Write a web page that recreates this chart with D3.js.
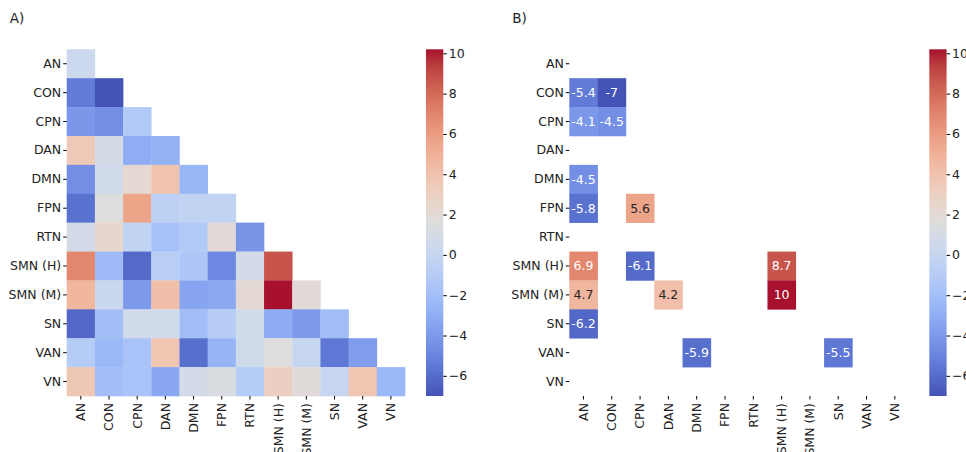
<html>
<script src='https://d3js.org/d3.v7.min.js'></script>
<style>
    body { margin: 0; background: white; }
    text { font-family: 'DejaVu Sans', sans-serif; fill: #222; }
</style>

<body onload='init()'>
    <svg width=966 height=452></svg>
    <script>
        // network names (rows and columns)
        const regions = ['AN', 'CON', 'CPN', 'DAN', 'DMN', 'FPN', 'RTN', 'SMN (H)', 'SMN (M)', 'SN', 'VAN', 'VN'];

        // lower triangle of the t matrix, row by row
        const tValues = [
            [0.3],
            [-5.4, -7.0],
            [-4.1, -4.5, -1.2],
            [3.5, 1.0, -3.0, -2.8],
            [-4.5, 0.6, 2.2, 3.9, -2.5],
            [-5.8, 1.6, 5.6, -0.6, -0.3, -0.3],
            [0.8, 2.4, -0.3, -1.8, -1.2, 1.9, -4.2],
            [6.9, -2.2, -6.1, -0.8, -1.4, -4.8, 0.8, 8.7],
            [4.7, 0.2, -4.0, 4.2, -3.5, -3.2, 2.1, 10.2, 1.9],
            [-6.2, -2.0, 0.6, 0.6, -2.0, -0.9, 0.5, -3.1, -4.0, -2.0],
            [-1.0, -2.4, -1.7, 3.8, -5.9, -2.6, 0.5, 1.6, 0.0, -5.5, -3.8],
            [3.6, -2.0, -1.7, -3.3, 0.8, 1.3, -1.0, 3.0, 1.8, 0.0, 3.8, -2.4]
        ];

        // cells that survive the significance threshold (panel B), [row, col]
        const sigCells = [[1, 0], [1, 1], [2, 0], [2, 1], [4, 0], [5, 0], [5, 2],
                          [7, 0], [7, 2], [7, 7], [8, 0], [8, 3], [8, 7], [9, 0], [10, 4], [10, 9]];

        const cbarTicks = [-6, -4, -2, 0, 2, 4, 6, 8, 10];

        // matplotlib coolwarm
        const coolwarm = ['#3b4cc0', '#445acc', '#4d68d7', '#5775e1', '#6282ea', '#6c8ef1', '#779af7', '#82a5fb',
            '#8db0fe', '#98b9ff', '#a3c2ff', '#aec9fd', '#b8d0f9', '#c2d5f4', '#ccd9ee', '#d5dbe6', '#dddddd',
            '#e5d8d1', '#ecd3c5', '#f1ccb9', '#f5c4ad', '#f7bba0', '#f7b194', '#f7a687', '#f49a7b', '#f18d6f',
            '#ec7f63', '#e57058', '#de604d', '#d55042', '#cb3e38', '#c0282f', '#b40426'];

        // same rule seaborn uses to pick the annotation colour
        function luminance(c) {
            const lin = v => { v /= 255; return v <= 0.03928 ? v / 12.92 : Math.pow((v + 0.055) / 1.055, 2.4); };
            c = d3.rgb(c);
            return 0.2126 * lin(c.r) + 0.7152 * lin(c.g) + 0.0722 * lin(c.b);
        }

        function init() {
            const svg = d3.select('svg');

            let cells = [];
            tValues.forEach((row, i) => row.forEach((v, j) => cells.push({ r: i, c: j, v: v })));
            const sig = cells.filter(d => sigCells.some(s => s[0] === d.r && s[1] === d.c));

            // the printed figure looks a touch washed out
            const stops = coolwarm.map(c => { let h = d3.hsl(c); h.s *= 0.85; return h.formatHex(); });
            const ext = d3.extent(cells, d => d.v);
            const color = d3.scaleSequential(d3.piecewise(d3.interpolateRgb, stops)).domain(ext);

            const top = 49.3, bottom = 396;
            const fs = '12.5px';
            const y = d3.scaleBand().domain(regions).range([top, bottom]);

            function panel(x0, x1, data, label, cbarX, annotate) {
                const x = d3.scaleBand().domain(regions).range([x0, x1]);
                const g = svg.append('g');

                svg.append('text').attr('x', x0 - 57).attr('y', 23)
                    .style('font-size', '13.5px').text(label);

                g.selectAll('rect').data(data).enter().append('rect')
                    .attr('x', d => x(regions[d.c]))
                    .attr('y', d => y(regions[d.r]))
                    .attr('width', x.bandwidth() + 0.3)
                    .attr('height', y.bandwidth() + 0.3)
                    .attr('fill', d => color(d.v));

                if (annotate) {
                    g.selectAll('.ann').data(data).enter().append('text')
                        .attr('x', d => x(regions[d.c]) + x.bandwidth() / 2)
                        .attr('y', d => y(regions[d.r]) + y.bandwidth() / 2)
                        .attr('dy', '0.36em')
                        .attr('text-anchor', 'middle')
                        .style('font-size', fs)
                        .style('fill', d => luminance(color(d.v)) > 0.408 ? '#262626' : 'white')
                        .text(d => d3.format('.2~g')(d.v).replace('−', '-'));
                }

                // axes
                const ya = svg.append('g').attr('transform', `translate(${x0},0)`)
                    .call(d3.axisLeft(y).tickSize(3.5).tickPadding(2));
                ya.select('.domain').remove();
                ya.selectAll('text').style('font-size', fs);

                const xa = svg.append('g').attr('transform', `translate(0,${bottom})`)
                    .call(d3.axisBottom(x).tickSize(3.5).tickPadding(2));
                xa.select('.domain').remove();
                xa.selectAll('text').style('font-size', fs)
                    .attr('text-anchor', 'end')
                    .attr('transform', 'rotate(-90)')
                    .attr('x', -7).attr('y', 0).attr('dy', '0.35em');

                // colorbar
                const cy = d3.scaleLinear().domain(ext).range([bottom, top]);
                const gid = 'grad' + label.charAt(0);
                const grad = svg.append('defs').append('linearGradient').attr('id', gid)
                    .attr('x1', 0).attr('y1', 1).attr('x2', 0).attr('y2', 0);
                d3.range(0, 1.0001, 0.05).forEach(t => {
                    grad.append('stop').attr('offset', t)
                        .attr('stop-color', color(ext[0] + t * (ext[1] - ext[0])));
                });
                svg.append('rect').attr('x', cbarX).attr('y', top)
                    .attr('width', 17.3).attr('height', bottom - top)
                    .attr('fill', `url(#${gid})`);
                const ca = svg.append('g').attr('transform', `translate(${cbarX + 17.3},0)`)
                    .call(d3.axisRight(cy).tickValues(cbarTicks).tickSize(3.5).tickPadding(2));
                ca.select('.domain').remove();
                ca.selectAll('text').style('font-size', fs);
            }

            panel(66.7, 405, cells, 'A)', 426, false);
            panel(569.3, 909, sig, 'B)', 929.3, true);
        }
    </script>
</body>

</html>
